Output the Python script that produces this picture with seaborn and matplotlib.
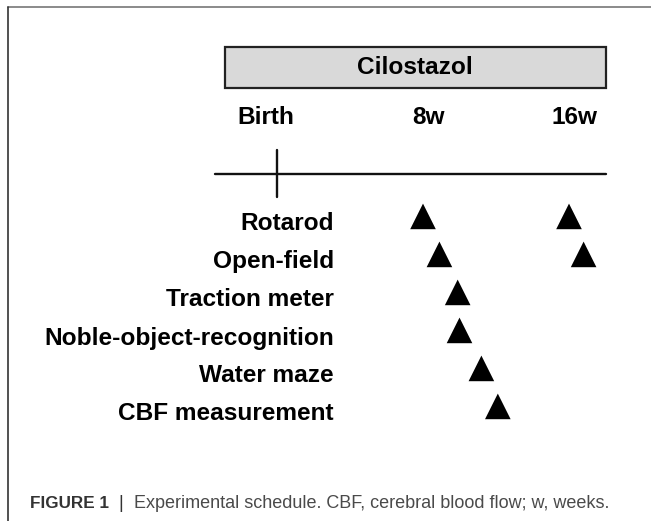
import numpy as np
import pandas as pd
import seaborn as sns
import matplotlib.pyplot as plt
from matplotlib.patches import Rectangle
from matplotlib.lines import Line2D

# schedule data (weeks after birth)
activities = ['Rotarod', 'Open-field', 'Traction meter',
              'Noble-object-recognition', 'Water maze', 'CBF measurement']
test_weeks = [[8, 16], [8.9, 16.8], [9.9], [10.0], [11.2], [12.1]]
time_points = [0, 8, 16]
time_labels = ['Birth', '8w', '16w']
treatment = 'Cilostazol'
treatment_span = [-2.85, 18.0]
caption_head = 'FIGURE 1'
caption_body = 'Experimental schedule. CBF, cerebral blood flow; w, weeks.'

rows = []
for i, (name, weeks) in enumerate(zip(activities, test_weeks)):
    for w in weeks:
        rows.append({'activity': name, 'row': i, 'week': w})
df = pd.DataFrame(rows)

sns.set_style('white')
plt.rcParams['font.family'] = ['Liberation Sans', 'DejaVu Sans']

W, H = 651, 521
fig = plt.figure(figsize=(W / 100, H / 100), dpi=100)
ax = fig.add_axes([0, 0, 1, 1])

# pixel layout helpers
X0, XS = 277, 18.25
Y0, YS = 224, 38
def dx(px):
    return (px - X0) / XS
def dy(py):
    return (py - Y0) / YS

ax.set_xlim(dx(0), dx(W))
ax.set_ylim(dy(H), dy(0))
ax.axis('off')

# triangles
sns.scatterplot(data=df, x='week', y=df['row'] - 0.2, marker='^', s=340,
                color='black', edgecolor='none', ax=ax, legend=False)

# activity labels
for i, name in enumerate(activities):
    ax.text(dx(334), i, name, ha='right', va='center', fontsize=17.6,
            fontweight='bold', color='black')

# treatment bar
ax.add_patch(Rectangle((treatment_span[0], dy(88)),
                       treatment_span[1] - treatment_span[0], dy(47) - dy(88),
                       facecolor='#d9d9d9', edgecolor='#222222', lw=1.6))
ax.text(np.mean(treatment_span), dy(68), treatment, ha='center', va='center',
        fontsize=17.6, fontweight='bold', color='black')

# time axis
label_nudge = [-0.6, 0.3, 0.3]
for t, lab, nd in zip(time_points, time_labels, label_nudge):
    ax.text(t + nd, dy(118), lab, ha='center', va='center', fontsize=17.6,
            fontweight='bold', color='black')
ax.plot([dx(215), treatment_span[1]], [dy(174), dy(174)], color='#111111', lw=1.7)
ax.plot([time_points[0], time_points[0]], [dy(150), dy(197)], color='#111111', lw=1.7)

# frame
fig.add_artist(Line2D([7.5 / W, 1], [1 - 7 / H, 1 - 7 / H], color='#777777', lw=1.2))
fig.add_artist(Line2D([7.5 / W, 7.5 / W], [0, 1 - 7 / H], color='#333333', lw=1.2))

# caption
cy = 1 - 504 / H
fig.text(30 / W, cy, caption_head, ha='left', va='center',
         fontsize=12.3, fontweight='bold', color='#333333')
fig.text(121 / W, cy, '|', ha='center', va='center', fontsize=13, color='#333333')
fig.text(134 / W, cy, caption_body, ha='left', va='center',
         fontsize=13, color='#4a4a4a')

fig.savefig('out.png', dpi=100)
